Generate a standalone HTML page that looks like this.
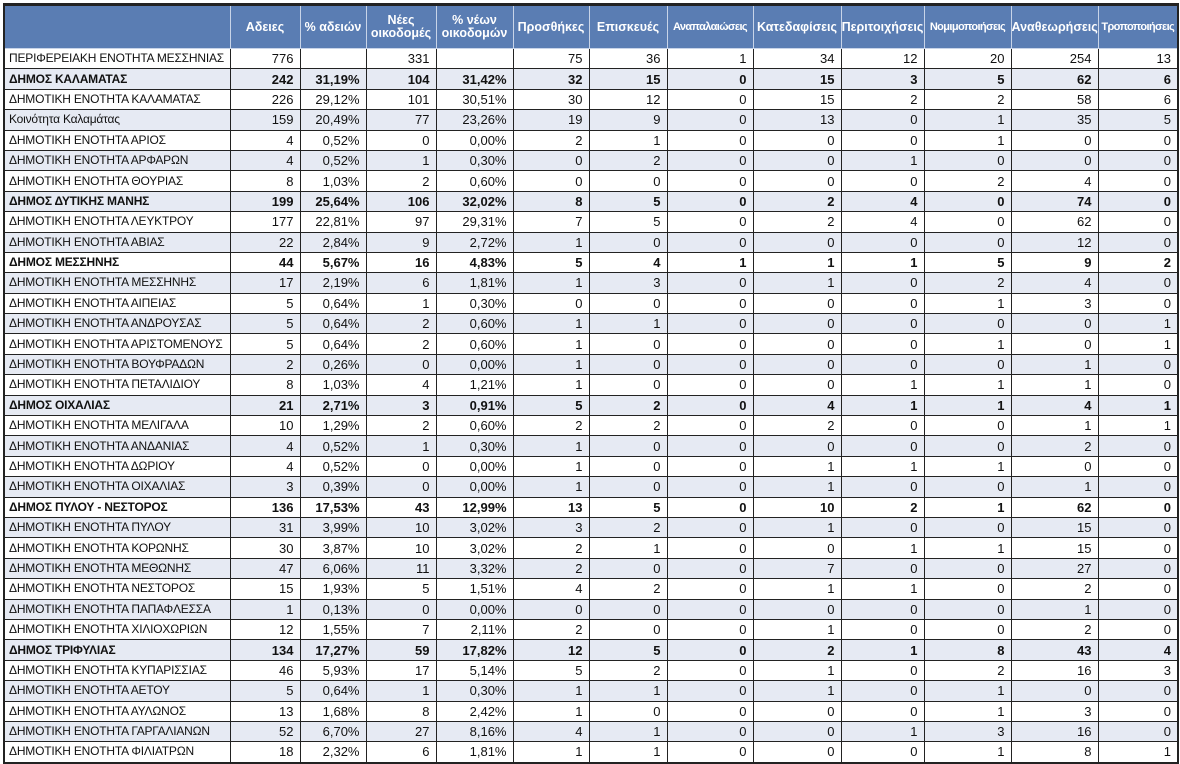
<!DOCTYPE html>
<html><head><meta charset="utf-8"><style>
body{margin:0;background:#fff;width:1180px;height:763px;overflow:hidden}
table{position:absolute;left:3px;top:3px;width:1174px;border-collapse:collapse;table-layout:fixed;font-family:"Liberation Sans","DejaVu Sans",sans-serif;font-size:13px;color:#111;border:2px solid #222}
td,th{border:1px solid #222;padding:0;height:19.4px;line-height:19px;white-space:nowrap;overflow:hidden;text-align:right;vertical-align:middle}
td::after{content:"";display:inline-block;width:6px}
th{background:#5a7db3;color:#fff;height:42px;line-height:13px;font-size:12.5px;text-align:center;border-color:#c8d4e8;border-top:3px solid #222}
th.n{font-size:11px;letter-spacing:-0.6px}
td:first-child{text-align:left;font-size:12px;letter-spacing:-0.2px;text-indent:4px}
td:first-child::after{display:none}
tbody tr:nth-child(even) td{background:#e6eaf3}
tbody tr:nth-child(odd) td{background:#fff}
tr.b td{font-weight:bold}
</style></head><body>
<table>
<colgroup><col style="width:226px"><col style="width:70px"><col style="width:66px"><col style="width:70px"><col style="width:77px"><col style="width:76px"><col style="width:78px"><col style="width:86px"><col style="width:88px"><col style="width:83px"><col style="width:87px"><col style="width:87px"><col style="width:80px"></colgroup>
<thead><tr><th></th><th>Αδειες</th><th>% αδειών</th><th>Νέες<br>οικοδομές</th><th>% νέων<br>οικοδομών</th><th>Προσθήκες</th><th>Επισκευές</th><th class="n">Αναπαλαιώσεις</th><th>Κατεδαφίσεις</th><th>Περιτοιχήσεις</th><th class="n">Νομιμοποιήσεις</th><th>Αναθεωρήσεις</th><th class="n">Τροποποιήσεις</th></tr></thead>
<tbody>
<tr><td>ΠΕΡΙΦΕΡΕΙΑΚΗ ΕΝΟΤΗΤΑ ΜΕΣΣΗΝΙΑΣ</td><td>776</td><td></td><td>331</td><td></td><td>75</td><td>36</td><td>1</td><td>34</td><td>12</td><td>20</td><td>254</td><td>13</td></tr>
<tr class="b"><td>ΔΗΜΟΣ ΚΑΛΑΜΑΤΑΣ</td><td>242</td><td>31,19%</td><td>104</td><td>31,42%</td><td>32</td><td>15</td><td>0</td><td>15</td><td>3</td><td>5</td><td>62</td><td>6</td></tr>
<tr><td>ΔΗΜΟΤΙΚΗ ΕΝΟΤΗΤΑ ΚΑΛΑΜΑΤΑΣ</td><td>226</td><td>29,12%</td><td>101</td><td>30,51%</td><td>30</td><td>12</td><td>0</td><td>15</td><td>2</td><td>2</td><td>58</td><td>6</td></tr>
<tr><td>Κοινότητα Καλαμάτας</td><td>159</td><td>20,49%</td><td>77</td><td>23,26%</td><td>19</td><td>9</td><td>0</td><td>13</td><td>0</td><td>1</td><td>35</td><td>5</td></tr>
<tr><td>ΔΗΜΟΤΙΚΗ ΕΝΟΤΗΤΑ ΑΡΙΟΣ</td><td>4</td><td>0,52%</td><td>0</td><td>0,00%</td><td>2</td><td>1</td><td>0</td><td>0</td><td>0</td><td>1</td><td>0</td><td>0</td></tr>
<tr><td>ΔΗΜΟΤΙΚΗ ΕΝΟΤΗΤΑ ΑΡΦΑΡΩΝ</td><td>4</td><td>0,52%</td><td>1</td><td>0,30%</td><td>0</td><td>2</td><td>0</td><td>0</td><td>1</td><td>0</td><td>0</td><td>0</td></tr>
<tr><td>ΔΗΜΟΤΙΚΗ ΕΝΟΤΗΤΑ ΘΟΥΡΙΑΣ</td><td>8</td><td>1,03%</td><td>2</td><td>0,60%</td><td>0</td><td>0</td><td>0</td><td>0</td><td>0</td><td>2</td><td>4</td><td>0</td></tr>
<tr class="b"><td>ΔΗΜΟΣ ΔΥΤΙΚΗΣ ΜΑΝΗΣ</td><td>199</td><td>25,64%</td><td>106</td><td>32,02%</td><td>8</td><td>5</td><td>0</td><td>2</td><td>4</td><td>0</td><td>74</td><td>0</td></tr>
<tr><td>ΔΗΜΟΤΙΚΗ ΕΝΟΤΗΤΑ ΛΕΥΚΤΡΟΥ</td><td>177</td><td>22,81%</td><td>97</td><td>29,31%</td><td>7</td><td>5</td><td>0</td><td>2</td><td>4</td><td>0</td><td>62</td><td>0</td></tr>
<tr><td>ΔΗΜΟΤΙΚΗ ΕΝΟΤΗΤΑ ΑΒΙΑΣ</td><td>22</td><td>2,84%</td><td>9</td><td>2,72%</td><td>1</td><td>0</td><td>0</td><td>0</td><td>0</td><td>0</td><td>12</td><td>0</td></tr>
<tr class="b"><td>ΔΗΜΟΣ ΜΕΣΣΗΝΗΣ</td><td>44</td><td>5,67%</td><td>16</td><td>4,83%</td><td>5</td><td>4</td><td>1</td><td>1</td><td>1</td><td>5</td><td>9</td><td>2</td></tr>
<tr><td>ΔΗΜΟΤΙΚΗ ΕΝΟΤΗΤΑ ΜΕΣΣΗΝΗΣ</td><td>17</td><td>2,19%</td><td>6</td><td>1,81%</td><td>1</td><td>3</td><td>0</td><td>1</td><td>0</td><td>2</td><td>4</td><td>0</td></tr>
<tr><td>ΔΗΜΟΤΙΚΗ ΕΝΟΤΗΤΑ ΑΙΠΕΙΑΣ</td><td>5</td><td>0,64%</td><td>1</td><td>0,30%</td><td>0</td><td>0</td><td>0</td><td>0</td><td>0</td><td>1</td><td>3</td><td>0</td></tr>
<tr><td>ΔΗΜΟΤΙΚΗ ΕΝΟΤΗΤΑ ΑΝΔΡΟΥΣΑΣ</td><td>5</td><td>0,64%</td><td>2</td><td>0,60%</td><td>1</td><td>1</td><td>0</td><td>0</td><td>0</td><td>0</td><td>0</td><td>1</td></tr>
<tr><td>ΔΗΜΟΤΙΚΗ ΕΝΟΤΗΤΑ ΑΡΙΣΤΟΜΕΝΟΥΣ</td><td>5</td><td>0,64%</td><td>2</td><td>0,60%</td><td>1</td><td>0</td><td>0</td><td>0</td><td>0</td><td>1</td><td>0</td><td>1</td></tr>
<tr><td>ΔΗΜΟΤΙΚΗ ΕΝΟΤΗΤΑ ΒΟΥΦΡΑΔΩΝ</td><td>2</td><td>0,26%</td><td>0</td><td>0,00%</td><td>1</td><td>0</td><td>0</td><td>0</td><td>0</td><td>0</td><td>1</td><td>0</td></tr>
<tr><td>ΔΗΜΟΤΙΚΗ ΕΝΟΤΗΤΑ ΠΕΤΑΛΙΔΙΟΥ</td><td>8</td><td>1,03%</td><td>4</td><td>1,21%</td><td>1</td><td>0</td><td>0</td><td>0</td><td>1</td><td>1</td><td>1</td><td>0</td></tr>
<tr class="b"><td>ΔΗΜΟΣ ΟΙΧΑΛΙΑΣ</td><td>21</td><td>2,71%</td><td>3</td><td>0,91%</td><td>5</td><td>2</td><td>0</td><td>4</td><td>1</td><td>1</td><td>4</td><td>1</td></tr>
<tr><td>ΔΗΜΟΤΙΚΗ ΕΝΟΤΗΤΑ ΜΕΛΙΓΑΛΑ</td><td>10</td><td>1,29%</td><td>2</td><td>0,60%</td><td>2</td><td>2</td><td>0</td><td>2</td><td>0</td><td>0</td><td>1</td><td>1</td></tr>
<tr><td>ΔΗΜΟΤΙΚΗ ΕΝΟΤΗΤΑ ΑΝΔΑΝΙΑΣ</td><td>4</td><td>0,52%</td><td>1</td><td>0,30%</td><td>1</td><td>0</td><td>0</td><td>0</td><td>0</td><td>0</td><td>2</td><td>0</td></tr>
<tr><td>ΔΗΜΟΤΙΚΗ ΕΝΟΤΗΤΑ ΔΩΡΙΟΥ</td><td>4</td><td>0,52%</td><td>0</td><td>0,00%</td><td>1</td><td>0</td><td>0</td><td>1</td><td>1</td><td>1</td><td>0</td><td>0</td></tr>
<tr><td>ΔΗΜΟΤΙΚΗ ΕΝΟΤΗΤΑ ΟΙΧΑΛΙΑΣ</td><td>3</td><td>0,39%</td><td>0</td><td>0,00%</td><td>1</td><td>0</td><td>0</td><td>1</td><td>0</td><td>0</td><td>1</td><td>0</td></tr>
<tr class="b"><td>ΔΗΜΟΣ ΠΥΛΟΥ - ΝΕΣΤΟΡΟΣ</td><td>136</td><td>17,53%</td><td>43</td><td>12,99%</td><td>13</td><td>5</td><td>0</td><td>10</td><td>2</td><td>1</td><td>62</td><td>0</td></tr>
<tr><td>ΔΗΜΟΤΙΚΗ ΕΝΟΤΗΤΑ ΠΥΛΟΥ</td><td>31</td><td>3,99%</td><td>10</td><td>3,02%</td><td>3</td><td>2</td><td>0</td><td>1</td><td>0</td><td>0</td><td>15</td><td>0</td></tr>
<tr><td>ΔΗΜΟΤΙΚΗ ΕΝΟΤΗΤΑ ΚΟΡΩΝΗΣ</td><td>30</td><td>3,87%</td><td>10</td><td>3,02%</td><td>2</td><td>1</td><td>0</td><td>0</td><td>1</td><td>1</td><td>15</td><td>0</td></tr>
<tr><td>ΔΗΜΟΤΙΚΗ ΕΝΟΤΗΤΑ ΜΕΘΩΝΗΣ</td><td>47</td><td>6,06%</td><td>11</td><td>3,32%</td><td>2</td><td>0</td><td>0</td><td>7</td><td>0</td><td>0</td><td>27</td><td>0</td></tr>
<tr><td>ΔΗΜΟΤΙΚΗ ΕΝΟΤΗΤΑ ΝΕΣΤΟΡΟΣ</td><td>15</td><td>1,93%</td><td>5</td><td>1,51%</td><td>4</td><td>2</td><td>0</td><td>1</td><td>1</td><td>0</td><td>2</td><td>0</td></tr>
<tr><td>ΔΗΜΟΤΙΚΗ ΕΝΟΤΗΤΑ ΠΑΠΑΦΛΕΣΣΑ</td><td>1</td><td>0,13%</td><td>0</td><td>0,00%</td><td>0</td><td>0</td><td>0</td><td>0</td><td>0</td><td>0</td><td>1</td><td>0</td></tr>
<tr><td>ΔΗΜΟΤΙΚΗ ΕΝΟΤΗΤΑ ΧΙΛΙΟΧΩΡΙΩΝ</td><td>12</td><td>1,55%</td><td>7</td><td>2,11%</td><td>2</td><td>0</td><td>0</td><td>1</td><td>0</td><td>0</td><td>2</td><td>0</td></tr>
<tr class="b"><td>ΔΗΜΟΣ ΤΡΙΦΥΛΙΑΣ</td><td>134</td><td>17,27%</td><td>59</td><td>17,82%</td><td>12</td><td>5</td><td>0</td><td>2</td><td>1</td><td>8</td><td>43</td><td>4</td></tr>
<tr><td>ΔΗΜΟΤΙΚΗ ΕΝΟΤΗΤΑ ΚΥΠΑΡΙΣΣΙΑΣ</td><td>46</td><td>5,93%</td><td>17</td><td>5,14%</td><td>5</td><td>2</td><td>0</td><td>1</td><td>0</td><td>2</td><td>16</td><td>3</td></tr>
<tr><td>ΔΗΜΟΤΙΚΗ ΕΝΟΤΗΤΑ ΑΕΤΟΥ</td><td>5</td><td>0,64%</td><td>1</td><td>0,30%</td><td>1</td><td>1</td><td>0</td><td>1</td><td>0</td><td>1</td><td>0</td><td>0</td></tr>
<tr><td>ΔΗΜΟΤΙΚΗ ΕΝΟΤΗΤΑ ΑΥΛΩΝΟΣ</td><td>13</td><td>1,68%</td><td>8</td><td>2,42%</td><td>1</td><td>0</td><td>0</td><td>0</td><td>0</td><td>1</td><td>3</td><td>0</td></tr>
<tr><td>ΔΗΜΟΤΙΚΗ ΕΝΟΤΗΤΑ ΓΑΡΓΑΛΙΑΝΩΝ</td><td>52</td><td>6,70%</td><td>27</td><td>8,16%</td><td>4</td><td>1</td><td>0</td><td>0</td><td>1</td><td>3</td><td>16</td><td>0</td></tr>
<tr><td>ΔΗΜΟΤΙΚΗ ΕΝΟΤΗΤΑ ΦΙΛΙΑΤΡΩΝ</td><td>18</td><td>2,32%</td><td>6</td><td>1,81%</td><td>1</td><td>1</td><td>0</td><td>0</td><td>0</td><td>1</td><td>8</td><td>1</td></tr>
</tbody></table>
</body></html>
